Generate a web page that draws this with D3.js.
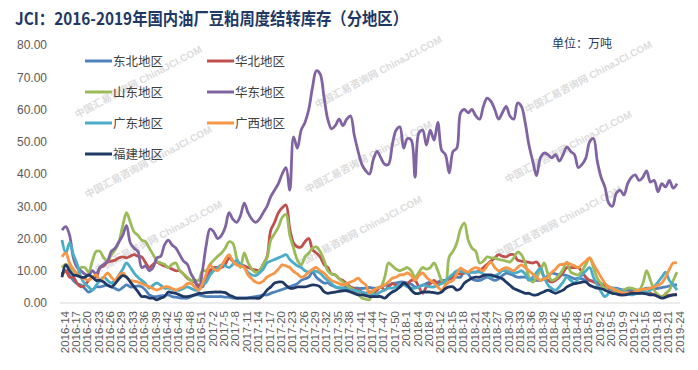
<!DOCTYPE html>
<html>
<head>
<meta charset="utf-8">
<script src="https://cdn.jsdelivr.net/npm/d3@7"></script>
<style>
  body { margin: 0; background: #fff; }
  text { font-family: "Liberation Sans", Arial, "Noto Sans CJK SC", sans-serif; }
</style>
</head>
<body>
<div id="line-chart"></div>
<script>
// week runs: [year, first week, last week] (a few holiday weeks are missing)
const weekRuns = [[2016, 14, 30], [2016, 32, 52], [2017, 1, 52], [2018, 1, 5], [2018, 8, 52], [2019, 1, 5], [2019, 7, 24]];
const weeks = [];
weekRuns.forEach(([y, a, b]) => { for (let w = a; w <= b; w++) weeks.push(`${y}-${w}`); });
const tickLabels = weeks.filter((d, i) => i % 3 === 0);

const regions = ["东北地区", "华北地区", "山东地区", "华东地区", "广东地区", "广西地区", "福建地区"];
const colors = ["#4F81BD", "#C0504D", "#9BBB59", "#8064A2", "#4BACC6", "#F79646", "#1F3864"];

const dongbei = [9,10,8.5,7,6,5.6,4.5,3.4,4,5,5,5.3,5.6,5,4.5,4,4.8,5.6,5,5,5.3,5,4,2.5,2,2,2.2,2.3,2.5,2,1.8,1.6,1.5,1.5,2,2.5,2.5,2.2,2,2,2,2,2,1.8,1.8,1.5,1.5,1.5,1.5,1.6,1.8,2,2.2,2.5,2.5,3,3.4,3.8,4.2,4.6,5,5.5,6,7,7.5,8,9.6,8,7,6.2,6.2,5.5,5,4.6,4.6,5,4.8,4.6,4.6,4.5,4.6,4.8,4.6,4.6,5,5.5,5.5,6,6.2,6.5,6.5,6.2,5.8,5,5,5.5,6,6.5,6.2,6.5,7,7,7.5,7.8,8,8,10,9,7.5,7,7,7.5,8,7.5,7,7.5,8.5,9.3,9,8.5,8,8,8,7.5,7.2,7,7,7.5,8.5,9.3,9,8.7,8.7,8.5,8,7.5,7.7,7.5,7,7,6.8,6.5,6,5.5,5,4.6,4.6,4.3,4,4,4,4,4,4.2,4.6,4.6,4.4,4.5,4.8,5,5.3,5.6,5.6];
const huabei = [8.7,10,8,8,6,5,5.5,7,8,8,11,11.5,12.7,13,13.3,14,14.3,14,14.5,15,14.5,14.3,12.5,11,12,12.7,12,11.5,11,10.5,10,10,9,7.7,7,6.5,5.5,5,8,10,11,11,11,12,14,13,12,11.8,11.5,11,10.5,10.3,10,12,14.3,22.6,25,28,29.5,30.4,23,18.6,17.4,17.4,19,20,16.5,15.5,14.3,12,11,9,8.7,7.5,7,6,5,4.5,4,3.4,3,3.5,3,4,5,4,5,6,5.5,5,6,6,7,7,5,3,5,6,7,6,6.5,7,7.5,8,9,9,9.3,9.5,9.6,9.6,10,11,12,13,14,15,14.5,14.3,15,15,13.3,13,12.8,12.6,12.4,12.7,11,8,7,6.5,7,8,9.5,11,11,11,11,9.6,8,7,6.5,6,5.5,5,4.5,4,3.5,3,2.5,3,3.4,3.2,3.4,3.5,3.4,3,2.5,2.3,2,2.2,2.4,2.5,2.8];
const shandong = [11,12,11,10,9,11,11,9.6,13,16,16,14,13,15,16.5,19,24,28,25,22,21,19.5,19,17,15,13,12.4,12,11,12,12.4,10,9,8,7,7,7,10,10,12,13.3,14.5,15.5,17,19,18.5,14,11,15.5,12.5,10.5,9.5,10,12,14,19.5,21.5,23.5,26.5,27.5,21,17,13.3,11.8,14.3,15.5,17,17.4,16,13.3,10,9,8.7,7.5,6.5,5.5,4.7,4,3,1.5,1.2,1,3.5,4.6,5,8,12.4,11.5,10.5,10,10.5,11,10,8,9.5,11,10.5,11,12.4,10,7,6,14.3,16,18.6,23,24.8,19.5,17,16,12.4,13,14.3,14,14,13.5,13.3,13,12.7,14,15.8,15,12.4,8,6.5,8,10,12.4,9,7,7.5,8.7,10.5,12.7,9.6,9,8.7,10,12,14,11,7.7,6,4.6,5,4.5,3.4,3.5,4,4.6,4.6,4.2,4,6,10,7,4,2.5,1.9,3,4,7,9.6];
const huadong = [22.6,23.7,21,14,11,10,9,8.5,10,9,11,12,13,16,17,19,21,24,18.6,17,16,11,11.5,10,11,14,14.5,18,19.5,18,17,15,13,12,9,7,4,10,18,23,22,20,21,23.5,28,26,25,27,31,28,26,25,26,28,30,33,35,37,40,42,35,51.5,48,53.6,56,60,67,72,71,64,57,54,55,57,55,57,58,52,47,43,41,40,44.5,47,45,43,43,49,53.6,54.6,48,51,50.5,39,52.7,53.6,49,53.6,50.5,56,47.4,46,40.3,47,48,59,60,59,60,58,57,61,63.5,62.5,60,57,59,61,58,57,62,61,56,49,44,39.5,45,46.5,46,45,46,44,46,48.4,47,46,42,43,45,50,51,44,39,36,31,30,34,35,33.5,37,39,39.7,38,39,41,37.5,38,34.5,37,36,38,35.6,37];
const guangdong = [19.5,15.5,18.6,15,12,8,6,5,4,5.5,7,8,7,6.2,7,8.7,10.5,12.4,11,9.3,8,7,6,4.6,5.5,6.2,5.5,4.6,4.6,4.3,4,4,4.5,5,4.5,4,4,5.5,6.5,8.7,10,11,11.8,11.5,11,12,13.3,12,11,9.5,8.7,8.5,9.3,10.5,12.4,13,13.5,14,14.5,15,13.5,12.4,11.5,11,10,9.6,10,9.8,9.3,8,7,6,5,4.8,4.6,4.3,4,4,3.7,3.4,3,2.5,2.5,2.8,3.5,4,4.6,4.6,5,5.6,5.6,5,4.6,4.6,5,5.6,5.3,5,5,5.5,6,7,8,9,10,9.8,9.5,9.3,9.5,9.6,9.6,9,8.5,8,8.5,9,10,10,9.6,9.3,9.5,10,9,7,8,9.5,10.8,8,5.6,4.5,4,5,6.5,8,7,6.2,7.5,8.7,10,11,8,5.6,3.5,2,3,4.6,4.3,4,3.5,3,2.5,2.8,3,3.4,3.4,4,5,6.5,8,9.6,7,5.6,4];
const guangxi = [14.3,15.5,12.4,10.5,9,8,7.5,7,8,8.7,7,8,9.3,8,7,8.5,9.3,8,7,6.8,6.5,6,5.5,5,4.5,4,4.5,5,5,4.5,4,4.5,5,6,6,5,4,6,9,11.8,10.5,10,11.5,13.5,15,13,11.8,11.5,11,8.7,7.5,6.5,6.2,6.8,8,8.7,9.3,10.5,11.8,11.5,11,9.8,9,8,8.5,9.6,10.5,11,10,9.3,8,7,6.5,6,5.6,6,6.5,7,7.7,6.5,5.6,3,4,4.6,5,5.6,6.5,7.7,8,8.7,8.8,9.3,8.5,7,8.5,9.3,8,7,6.2,5,4,5.5,6.5,7,9,10.8,10,9.6,10.5,11,10.5,10,11.5,12.7,11,10,10.5,11,10.5,10,11,11.8,11,10,9,8,7,7.5,8,9.5,10.5,11.8,12,12.4,12,11.5,11,12,13,14,12,10,8,6.2,5,4.5,4,3.5,3.2,3,3,3.5,4,4.2,4.4,4.6,5,5.5,6.2,8,10.5,12.4,12.4];
const fujian = [8,11.8,10,8.7,8.5,8,8,8.7,8,7,7,6.5,5.5,5,6,7.5,8.5,8,6.5,5,3.5,2,2,1.5,1.5,1,1.5,2,3.4,3.2,3,2.5,2,2,2.2,2.5,3,3,3.2,3.3,3.4,3.4,3.4,3.2,2.5,2,1.5,1.5,1.5,1.5,1.5,1.5,1.5,2.5,4,5,6.2,6.5,6.5,5.5,4.6,4.6,5,5,5,5.3,5.6,5.5,5,3.5,3,3.2,3.4,3.6,3.8,3.8,3.4,3,2.5,2.5,2.3,2,2,2,2,1.5,2.5,3.4,4,5,6.2,5.5,4,3,3,3.4,3.4,3.4,3.2,3,3.4,4.5,5,5,4,4.5,6.2,7,7.7,8,8,8.5,8.7,8.7,8.3,8,7.5,6.5,5.5,4.5,4,3.5,3,3,2.5,2.5,3,3.5,4,3.5,3,3.5,4,5,5.6,6,6.2,6.5,6.5,5.5,5,4.6,4.5,4,3.5,3,2.8,2.5,2.5,2.7,3,3,3,3,2.8,2.5,2.5,2,1.5,1.8,2.2,2.5,2.5];

const seriesValues = [dongbei, huabei, shandong, huadong, guangdong, guangxi, fujian];
const yTicks = [0, 10, 20, 30, 40, 50, 60, 70, 80];

const createLineChart = () => {
    const width = 698;
    const height = 370;
    const plot = { left: 60, right: 680, top: 45, bottom: 303 };

    const svg = d3.select("#line-chart")
        .append("svg")
        .attr("width", width)
        .attr("height", height);

    // faint watermark, repeated in a loose grid
    const marks = [[140, 85], [380, 75], [590, 80], [150, 165], [370, 160], [570, 150], [160, 240], [360, 235], [560, 225]];
    svg.append("g").selectAll("text")
        .data(marks)
        .join("text")
        .attr("transform", d => `translate(${d[0]},${d[1]}) rotate(-28)`)
        .attr("text-anchor", "middle")
        .attr("fill", "#dcdcdc")
        .style("font-size", "10px")
        .style("font-weight", "bold")
        .text("中国汇易咨询网 ChinaJCI.COM");

    // title (squeezed to the width of the original)
    svg.append("text")
        .attr("x", 15)
        .attr("y", 25)
        .attr("fill", "#1F3864")
        .attr("textLength", 393)
        .attr("lengthAdjust", "spacingAndGlyphs")
        .style("font-family", "'Noto Sans CJK SC', sans-serif")
        .style("font-size", "17px")
        .style("font-weight", "bold")
        .text("JCI：2016-2019年国内油厂豆粕周度结转库存（分地区）");

    svg.append("text")
        .attr("x", 552)
        .attr("y", 48)
        .attr("fill", "#1F3864")
        .style("font-family", "'Noto Sans CJK SC', sans-serif")
        .style("font-size", "12px")
        .text("单位：万吨");

    const xScale = d3.scalePoint()
        .domain(weeks)
        .range([62, 677]);

    const yScale = d3.scaleLinear()
        .domain([0, 80])
        .range([plot.bottom, plot.top]);

    // y axis labels only
    const yAxis = d3.axisLeft(yScale)
        .tickValues(yTicks)
        .tickFormat(d3.format(".2f"))
        .tickSize(0)
        .tickPadding(0);

    svg.append("g")
        .attr("transform", "translate(47,0)")
        .call(yAxis)
        .call(g => g.select(".domain").remove())
        .selectAll("text")
        .attr("fill", "#595959")
        .style("font-size", "12px");

    // x axis
    const xAxis = d3.axisBottom(xScale)
        .tickValues(tickLabels)
        .tickSize(0)
        .tickPadding(0);

    const gx = svg.append("g")
        .attr("transform", `translate(0,${plot.bottom})`)
        .call(xAxis);
    gx.select(".domain").attr("stroke", "#D9D9D9").attr("d", `M${plot.left},0H${plot.right}`);
    gx.selectAll("text")
        .attr("fill", "#595959")
        .style("font-size", "11.5px")
        .style("text-anchor", "end")
        .attr("transform", "translate(2,8) rotate(-90)")
        .attr("x", 0)
        .attr("y", 0)
        .attr("dy", "0.35em");

    // lines
    const line = d3.line()
        .x((d, i) => xScale(weeks[i]))
        .y(d => yScale(d))
        .curve(d3.curveCatmullRom.alpha(0.5));

    svg.append("g")
        .selectAll("path")
        .data(seriesValues)
        .join("path")
        .attr("d", d => line(d))
        .attr("fill", "none")
        .attr("stroke", (d, i) => colors[i])
        .attr("stroke-width", 2.8)
        .attr("stroke-linejoin", "round");

    // legend (two columns)
    const legend = svg.append("g")
        .selectAll("g")
        .data(regions)
        .join("g")
        .attr("transform", (d, i) => `translate(${i % 2 === 0 ? 85 : 207},${61 + Math.floor(i / 2) * 31})`);

    legend.append("line")
        .attr("x1", 0)
        .attr("x2", 27)
        .attr("stroke", (d, i) => colors[i])
        .attr("stroke-width", 3);

    legend.append("text")
        .attr("x", 28)
        .attr("dy", "0.36em")
        .attr("fill", "#404040")
        .style("font-family", "'Noto Sans CJK SC', sans-serif")
        .style("font-size", "12.5px")
        .text(d => d);
};

createLineChart();
</script>
</body>
</html>
